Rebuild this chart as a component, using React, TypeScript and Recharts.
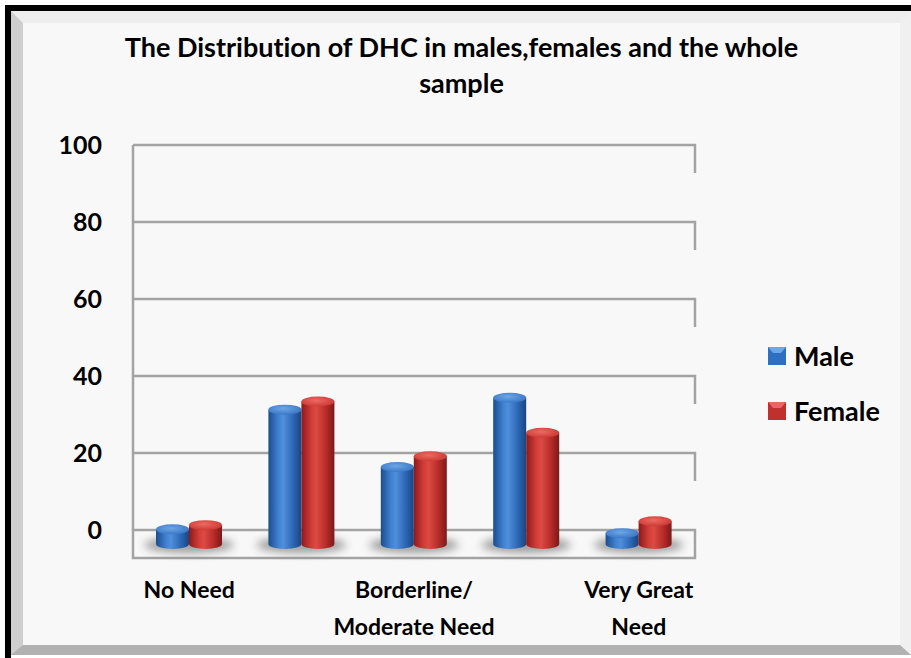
import { BarChart, Bar, XAxis, YAxis, CartesianGrid } from 'recharts';

const categories = ['No Need', 'Little Need', 'Borderline/ Moderate Need', 'Great Need', 'Very Great Need'];
const maleValues = [3.8, 34.9, 20.0, 38.0, 2.8];
const femaleValues = [4.9, 37.0, 22.8, 28.9, 5.9];
const yTicks = [0, 20, 40, 60, 80, 100];
const seriesNames = ['Male', 'Female'];
const titleLines = ['The Distribution of DHC in males,females and the whole', 'sample'];

const data = categories.map((name, i) => ({
  name,
  Male: maleValues[i],
  Female: femaleValues[i],
}));

const FONT = 'Lato, "Open Sans", sans-serif';
const FLOOR = 28; // depth of the 3d floor
const DEPTH = 14; // bars stand in the middle of the floor
const GRID = '#a3a3a3';

// wrap category text the way excel does
function wrapLabel(text: string, maxChars = 13): string[] {
  const lines: string[] = [];
  let cur = '';
  text.split(' ').forEach((w) => {
    const next = cur ? `${cur} ${w}` : w;
    if (next.length > maxChars && cur) {
      lines.push(cur);
      cur = w;
    } else {
      cur = next;
    }
  });
  if (cur) lines.push(cur);
  return lines;
}

function makeCylinder(color: 'blue' | 'red', withShadow: boolean) {
  return (props: any) => {
    const { x, y, width, height } = props;
    if (x == null || y == null) return <g />;
    const rx = width / 2;
    const ry = 5;
    const top = y + DEPTH;
    const bottom = y + height + DEPTH;
    return (
      <g>
        {withShadow && (
          <ellipse
            cx={x + width}
            cy={bottom + 1}
            rx={width + 12}
            ry={8}
            fill="#333"
            opacity={0.45}
            filter="url(#blurShadow)"
          />
        )}
        <path
          d={`M${x},${top} V${bottom} A${rx},${ry} 0 0 0 ${x + width},${bottom} V${top} Z`}
          fill={`url(#${color}Body)`}
        />
        <ellipse cx={x + rx} cy={top} rx={rx} ry={ry} fill={`url(#${color}Cap)`} />
      </g>
    );
  };
}

function GridLine(props: any) {
  const { x1, y1, x2, y, height, index } = props;
  const isFloor = Math.abs(y1 - (y + height)) < 1;
  const d = isFloor
    ? `M${x1},${y1} H${x2} V${y1 + FLOOR} H${x1} Z`
    : `M${x1},${y1} H${x2} V${y1 + FLOOR}`;
  return <path key={index} d={d} fill="none" stroke={GRID} strokeWidth={2.5} />;
}

function CategoryTick(props: any) {
  const { x, y, payload } = props;
  const lines = wrapLabel(payload.value);
  return (
    <text x={x} y={y} textAnchor="middle" fontFamily={FONT} fontWeight="bold" fontSize={23} fill="#000">
      {lines.map((l, i) => (
        <tspan key={i} x={x} dy={i === 0 ? 60 : 37}>
          {l}
        </tspan>
      ))}
    </text>
  );
}

function LegendSquare({ color }: { color: 'blue' | 'red' }) {
  const base = color === 'blue' ? '#2f6fc2' : '#c0302c';
  const light = color === 'blue' ? '#6aa8ea' : '#e8675f';
  return (
    <svg width={18} height={18} style={{ display: 'block' }}>
      <rect x={0} y={0} width={18} height={18} fill={base} />
      <polygon points="0,0 18,0 13,6 5,6" fill={light} />
    </svg>
  );
}

export default function App() {
  return (
    <div style={{ position: 'absolute', left: 0, top: 0, width: 911, height: 658, overflow: 'hidden', background: '#fff' }}>
      <svg width={0} height={0} style={{ position: 'absolute' }}>
        <defs>
          <linearGradient id="blueBody" x1="0" y1="0" x2="1" y2="0">
            <stop offset="0%" stopColor="#1c4d8c" />
            <stop offset="30%" stopColor="#3f80d0" />
            <stop offset="45%" stopColor="#4f8fdb" />
            <stop offset="75%" stopColor="#2c67b5" />
            <stop offset="100%" stopColor="#1b4580" />
          </linearGradient>
          <linearGradient id="redBody" x1="0" y1="0" x2="1" y2="0">
            <stop offset="0%" stopColor="#8a1b1b" />
            <stop offset="30%" stopColor="#d23c37" />
            <stop offset="45%" stopColor="#dc4a44" />
            <stop offset="75%" stopColor="#b72b28" />
            <stop offset="100%" stopColor="#7e1818" />
          </linearGradient>
          <radialGradient id="blueCap" cx="0.45" cy="0.4" r="0.6">
            <stop offset="0%" stopColor="#6ea6e6" />
            <stop offset="100%" stopColor="#3a78c6" />
          </radialGradient>
          <radialGradient id="redCap" cx="0.45" cy="0.4" r="0.6">
            <stop offset="0%" stopColor="#ec6a62" />
            <stop offset="100%" stopColor="#cc3a35" />
          </radialGradient>
          <filter id="blurShadow" x="-50%" y="-100%" width="200%" height="300%">
            <feGaussianBlur stdDeviation="4" />
          </filter>
        </defs>
      </svg>
      {/* black outer border */}
      <div
        style={{
          position: 'absolute',
          left: 5,
          top: 5,
          width: 930,
          height: 660,
          border: '6px solid #000',
          boxSizing: 'border-box',
        }}
      />
      {/* bevelled frame */}
      <div
        style={{
          position: 'absolute',
          left: 11,
          top: 11,
          width: 900,
          height: 644,
          boxSizing: 'border-box',
          borderLeft: '12px solid #cecece',
          borderTop: '12px solid #eeeeee',
          borderRight: '11px solid #f0f0f0',
          borderBottom: '10px solid #b2b2b2',
          background: '#f8f8f8',
        }}
      />
      <div
        style={{
          position: 'absolute',
          left: 23,
          top: 29,
          width: 877,
          textAlign: 'center',
          fontFamily: FONT,
          fontWeight: 'bold',
          fontSize: 27,
          lineHeight: '36px',
          color: '#000',
          fontVariantLigatures: 'none',
        }}
      >
        {titleLines[0]}
        <br />
        {titleLines[1]}
      </div>
      {/* legend */}
      <div style={{ position: 'absolute', left: 768, top: 328 }}>
        {seriesNames.map((n, i) => (
          <div key={n} style={{ display: 'flex', alignItems: 'center', height: 55 }}>
            <LegendSquare color={i === 0 ? 'blue' : 'red'} />
            <span style={{ marginLeft: 8, fontFamily: FONT, fontWeight: 'bold', fontSize: 27, color: '#000' }}>
              {n}
            </span>
          </div>
        ))}
      </div>
      <div style={{ position: 'absolute', left: 0, top: 0 }}>
        <BarChart
          width={911}
          height={658}
          data={data}
          margin={{ top: 145, right: 216, left: 33, bottom: 68 }}
          barGap={0}
          barSize={33}
        >
          <CartesianGrid vertical={false} horizontal={GridLine} />
          <XAxis
            dataKey="name"
            height={60}
            axisLine={false}
            tickLine={false}
            interval={1}
            tick={CategoryTick}
          />
          <YAxis
            width={100}
            domain={[0, 100]}
            ticks={yTicks}
            tickLine={false}
            axisLine={{ stroke: GRID, strokeWidth: 2.5 }}
            tickMargin={25}
            tick={{ fontFamily: FONT, fontWeight: 'bold', fontSize: 25, fill: '#000' }}
          />
          <Bar dataKey="Male" isAnimationActive={false} shape={makeCylinder('blue', true)} />
          <Bar dataKey="Female" isAnimationActive={false} shape={makeCylinder('red', false)} />
        </BarChart>
      </div>
    </div>
  );
}
